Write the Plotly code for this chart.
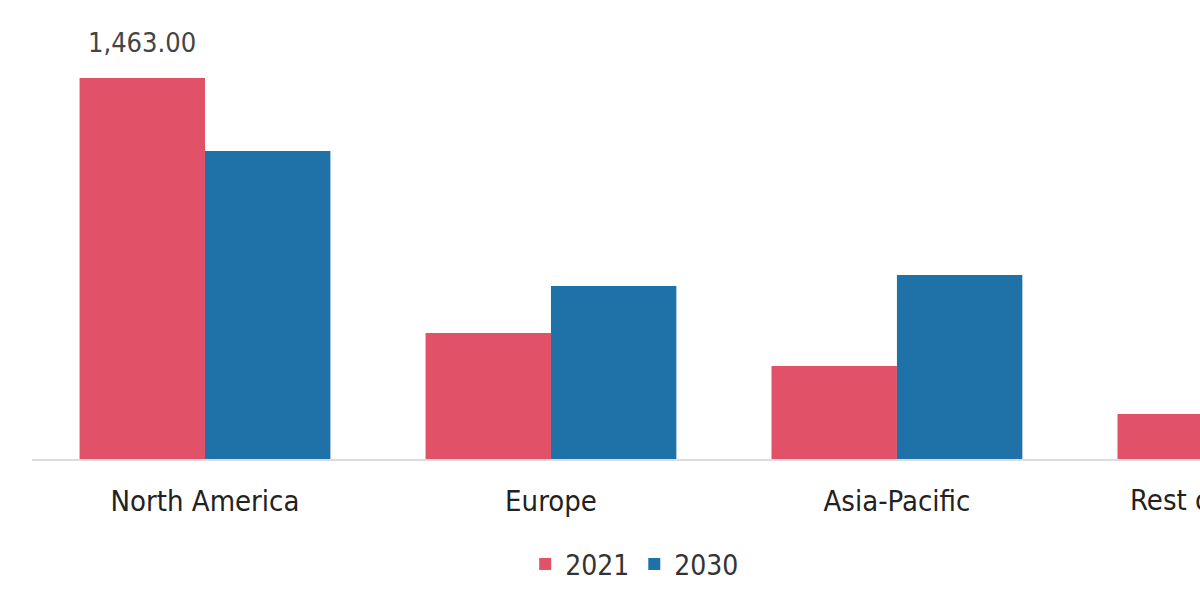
import plotly.graph_objects as go

categories = ["North America", "Europe", "Asia-Pacific", "Rest of the World"]
years = ["2021", "2030"]
values_2021 = [1463.0, 484.0, 357.0, 173.0]
values_2030 = [1183.0, 664.0, 707.0, 260.0]
colors = ["#E15268", "#1F72A8"]
top_label = "1,463.00"

FONT = "DejaVu Sans Condensed, Liberation Sans Narrow, Arial Narrow, sans-serif"

fig = go.Figure()
fig.add_trace(go.Bar(x=categories, y=values_2021, name=years[0], marker_color=colors[0],
                     marker_line_width=0))
fig.add_trace(go.Bar(x=categories, y=values_2030, name=years[1], marker_color=colors[1],
                     marker_line_width=0))

fig.update_layout(
    width=1200, height=600,
    margin=dict(l=32, r=0, t=20, b=141),
    paper_bgcolor="white", plot_bgcolor="white",
    barmode="group", bargap=0.275, bargroupgap=0,
    font=dict(family=FONT, size=29, color="#333333"),
    showlegend=True,
    legend=dict(orientation="h", x=0.516, xanchor="center", y=-0.24, yanchor="middle",
                font=dict(size=28, color="#333333"), itemwidth=30, traceorder="normal"),
    xaxis=dict(range=[-0.5, 2.876], showline=True, linecolor="#DDDDDD", linewidth=2,
               ticks="", showgrid=False, tickfont=dict(size=29, color="#222222"),
               ticklabelstandoff=15),
    yaxis=dict(range=[0, 1686], showticklabels=False, showgrid=False, zeroline=False,
               showline=False, ticks=""),
)

# value label above the North America 2021 bar
fig.add_annotation(text=top_label, xref="x", yref="y", x=categories[0], y=values_2021[0],
                   xshift=-63, yshift=18, xanchor="center", yanchor="bottom",
                   showarrow=False, font=dict(size=27, color="#444444", family=FONT))

# category label for the partly visible last group
fig.add_annotation(text=categories[3], xref="paper", yref="paper",
                   x=(1242 - 32) / 1168, y=(459 - 500) / 439, xanchor="center",
                   yanchor="middle", showarrow=False,
                   font=dict(size=29, color="#222222", family=FONT))

fig.write_html("out.html")
